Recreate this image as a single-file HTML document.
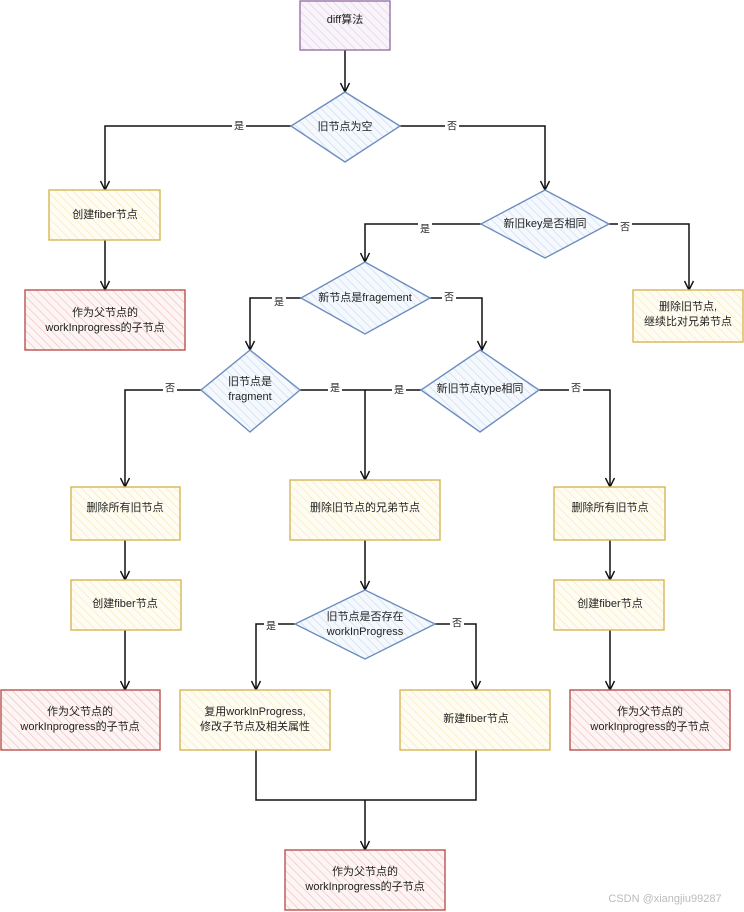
<!DOCTYPE html>
<html><head><meta charset="utf-8"><style>
html,body{margin:0;padding:0;background:#fff;}
svg{display:block;}
text{font-family:"Liberation Sans","Noto Sans CJK SC",sans-serif;font-size:11px;fill:#222;text-anchor:middle;dominant-baseline:middle;}
.lbl{font-size:10px;}
</style></head><body>
<svg width="744" height="912" viewBox="0 0 744 912" xmlns="http://www.w3.org/2000/svg">
<defs>
<pattern id="hy" width="6" height="6" patternUnits="userSpaceOnUse" patternTransform="rotate(-45)"><rect width="6" height="6" fill="#fffdf3"/><line x1="0" y1="0" x2="0" y2="6" stroke="#f3e7b2" stroke-width="1.2"/></pattern>
<pattern id="hr" width="6" height="6" patternUnits="userSpaceOnUse" patternTransform="rotate(-45)"><rect width="6" height="6" fill="#fdf4f4"/><line x1="0" y1="0" x2="0" y2="6" stroke="#f0bcbc" stroke-width="1.2"/></pattern>
<pattern id="hb" width="6" height="6" patternUnits="userSpaceOnUse" patternTransform="rotate(-45)"><rect width="6" height="6" fill="#f5f9fe"/><line x1="0" y1="0" x2="0" y2="6" stroke="#c6d8ee" stroke-width="1.2"/></pattern>
<pattern id="hp" width="6" height="6" patternUnits="userSpaceOnUse" patternTransform="rotate(-45)"><rect width="6" height="6" fill="#f8f4fa"/><line x1="0" y1="0" x2="0" y2="6" stroke="#dccbe6" stroke-width="1.2"/></pattern>
<marker id="ar" markerWidth="12" markerHeight="12" refX="10" refY="6" orient="auto" markerUnits="userSpaceOnUse"><path d="M1,1.5 L10,6 L1,10.5" fill="none" stroke="#111" stroke-width="1.4"/></marker>
</defs>

<g fill="none" stroke="#111" stroke-width="1.5">
<path d="M345,50 V92" marker-end="url(#ar)"/>
<path d="M291,126 H105 V190" marker-end="url(#ar)"/>
<path d="M400,126 H545 V190" marker-end="url(#ar)"/>
<path d="M105,240 V290" marker-end="url(#ar)"/>
<path d="M481,224 H365 V262" marker-end="url(#ar)"/>
<path d="M609,224 H689 V290" marker-end="url(#ar)"/>
<path d="M301,298 H250 V350" marker-end="url(#ar)"/>
<path d="M430,298 H482 V350" marker-end="url(#ar)"/>
<path d="M201,390 H125 V487" marker-end="url(#ar)"/>
<path d="M300,390 H365 V480" marker-end="url(#ar)"/>
<path d="M421,390 H365"/>
<path d="M539,390 H610 V487" marker-end="url(#ar)"/>
<path d="M125,540 V580" marker-end="url(#ar)"/>
<path d="M125,630 V690" marker-end="url(#ar)"/>
<path d="M610,540 V580" marker-end="url(#ar)"/>
<path d="M610,630 V690" marker-end="url(#ar)"/>
<path d="M365,540 V590" marker-end="url(#ar)"/>
<path d="M295,624 H256 V690" marker-end="url(#ar)"/>
<path d="M435,624 H476 V690" marker-end="url(#ar)"/>
<path d="M256,750 V800 H476 V750"/>
<path d="M365,800 V850" marker-end="url(#ar)"/>
</g>

<g class="lbl">
<rect x="232" y="120" width="14" height="13" fill="#fff"/><text class="lbl" x="239" y="127">是</text>
<rect x="445" y="120" width="14" height="13" fill="#fff"/><text class="lbl" x="452" y="127">否</text>
<rect x="418" y="223" width="14" height="13" fill="#fff"/><text class="lbl" x="425" y="230">是</text>
<rect x="618" y="221" width="14" height="13" fill="#fff"/><text class="lbl" x="625" y="228">否</text>
<rect x="272" y="296" width="14" height="13" fill="#fff"/><text class="lbl" x="279" y="303">是</text>
<rect x="442" y="291" width="14" height="13" fill="#fff"/><text class="lbl" x="449" y="298">否</text>
<rect x="163" y="382" width="14" height="13" fill="#fff"/><text class="lbl" x="170" y="389">否</text>
<rect x="328" y="382" width="14" height="13" fill="#fff"/><text class="lbl" x="335" y="389">是</text>
<rect x="392" y="384" width="14" height="13" fill="#fff"/><text class="lbl" x="399" y="391">是</text>
<rect x="569" y="382" width="14" height="13" fill="#fff"/><text class="lbl" x="576" y="389">否</text>
<rect x="264" y="620" width="14" height="13" fill="#fff"/><text class="lbl" x="271" y="627">是</text>
<rect x="450" y="617" width="14" height="13" fill="#fff"/><text class="lbl" x="457" y="624">否</text>
</g>

<g stroke-width="1.4">
<rect x="300" y="1" width="90" height="49" fill="url(#hp)" stroke="#9673a6"/>
<polygon points="345,92 400,126 345,162 291,126" fill="url(#hb)" stroke="#6c8ebf"/>
<rect x="49" y="190" width="111" height="50" fill="url(#hy)" stroke="#d6b656"/>
<rect x="25" y="290" width="160" height="60" fill="url(#hr)" stroke="#b85450"/>
<polygon points="545,190 609,224 545,258 481,224" fill="url(#hb)" stroke="#6c8ebf"/>
<rect x="633" y="290" width="110" height="52" fill="url(#hy)" stroke="#d6b656"/>
<polygon points="365,262 430,298 365,334 301,298" fill="url(#hb)" stroke="#6c8ebf"/>
<polygon points="250,350 300,390 250,432 201,390" fill="url(#hb)" stroke="#6c8ebf"/>
<polygon points="480,350 539,390 480,432 421,390" fill="url(#hb)" stroke="#6c8ebf"/>
<rect x="71" y="487" width="109" height="53" fill="url(#hy)" stroke="#d6b656"/>
<rect x="290" y="480" width="150" height="60" fill="url(#hy)" stroke="#d6b656"/>
<rect x="554" y="487" width="111" height="53" fill="url(#hy)" stroke="#d6b656"/>
<rect x="71" y="580" width="110" height="50" fill="url(#hy)" stroke="#d6b656"/>
<rect x="554" y="580" width="110" height="50" fill="url(#hy)" stroke="#d6b656"/>
<polygon points="365,590 435,624 365,659 295,624" fill="url(#hb)" stroke="#6c8ebf"/>
<rect x="1" y="690" width="159" height="60" fill="url(#hr)" stroke="#b85450"/>
<rect x="180" y="690" width="150" height="60" fill="url(#hy)" stroke="#d6b656"/>
<rect x="400" y="690" width="150" height="60" fill="url(#hy)" stroke="#d6b656"/>
<rect x="570" y="690" width="160" height="60" fill="url(#hr)" stroke="#b85450"/>
<rect x="285" y="850" width="160" height="60" fill="url(#hr)" stroke="#b85450"/>
</g>

<g>
<text x="345" y="20">diff算法</text>
<text x="345" y="127">旧节点为空</text>
<text x="105" y="215">创建fiber节点</text>
<text x="105" y="313">作为父节点的</text>
<text x="105" y="328">workInprogress的子节点</text>
<text x="545" y="224">新旧key是否相同</text>
<text x="688" y="307">删除旧节点,</text>
<text x="688" y="322">继续比对兄弟节点</text>
<text x="365" y="298">新节点是fragement</text>
<text x="250" y="382">旧节点是</text>
<text x="250" y="397">fragment</text>
<text x="480" y="389">新旧节点type相同</text>
<text x="125" y="508">删除所有旧节点</text>
<text x="365" y="508">删除旧节点的兄弟节点</text>
<text x="610" y="508">删除所有旧节点</text>
<text x="125" y="604">创建fiber节点</text>
<text x="610" y="604">创建fiber节点</text>
<text x="365" y="617">旧节点是否存在</text>
<text x="365" y="632">workInProgress</text>
<text x="80" y="712">作为父节点的</text>
<text x="80" y="727">workInprogress的子节点</text>
<text x="255" y="712">复用workInProgress,</text>
<text x="255" y="727">修改子节点及相关属性</text>
<text x="476" y="719">新建fiber节点</text>
<text x="650" y="712">作为父节点的</text>
<text x="650" y="727">workInprogress的子节点</text>
<text x="365" y="872">作为父节点的</text>
<text x="365" y="887">workInprogress的子节点</text>
<text x="665" y="899" style="fill:#bbb;font-size:11px">CSDN @xiangjiu99287</text>
</g>
</svg>
</body></html>
